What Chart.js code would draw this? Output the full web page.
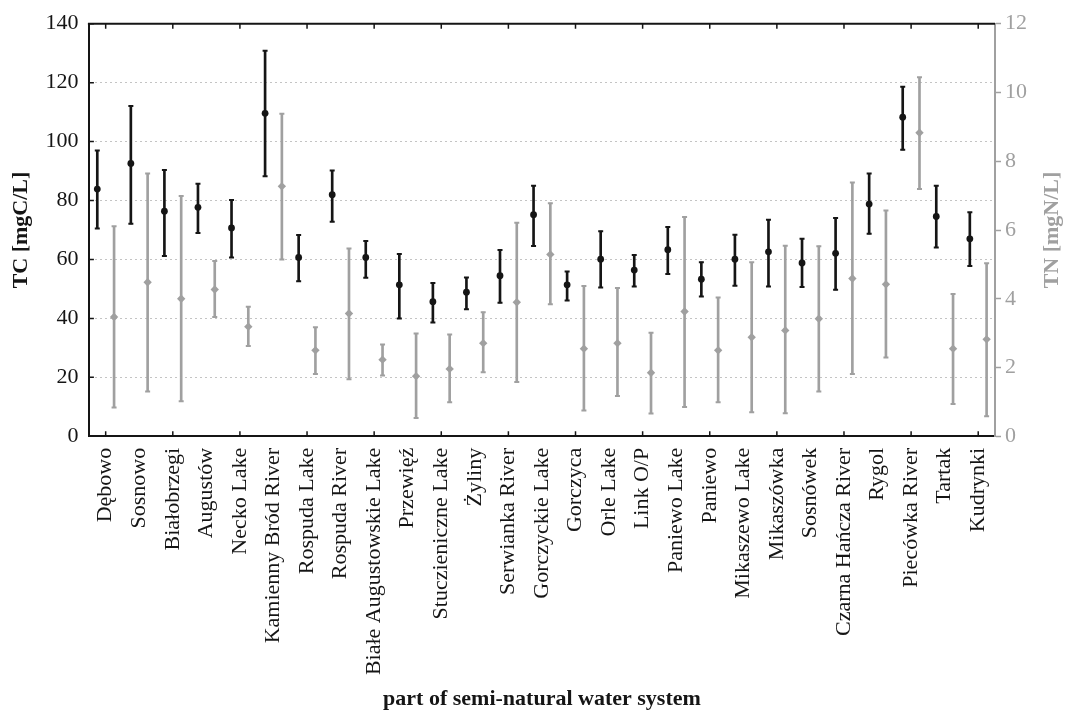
<!DOCTYPE html>
<html>
<head>
<meta charset="utf-8">
<script src="https://cdn.jsdelivr.net/npm/chart.js@4.4.0/dist/chart.umd.min.js"></script>
<style>
  html, body { margin: 0; padding: 0; background: #fff; }
  #wrap { width: 1067px; height: 711px; }
</style>
</head>
<body>
<div id="wrap"><canvas id="chart"></canvas></div>
<script>
// sampling sites along the water system
var sites = ['Dębowo', 'Sosnowo', 'Białobrzegi', 'Augustów', 'Necko Lake', 'Kamienny Bród River',
  'Rospuda Lake', 'Rospuda River', 'Białe Augustowskie Lake', 'Przewięź', 'Stuczieniczne Lake',
  'Żyliny', 'Serwianka River', 'Gorczyckie Lake', 'Gorczyca', 'Orle Lake', 'Link O/P',
  'Paniewo Lake', 'Paniewo', 'Mikaszewo Lake', 'Mikaszówka', 'Sosnówek', 'Czarna Hańcza River',
  'Rygol', 'Piecówka River', 'Tartak', 'Kudrynki'];

// TC [mgC/L] - mean and whisker ends
var tcMean = [83.9, 92.6, 76.4, 77.7, 70.7, 109.6, 60.7, 82.0, 60.7, 51.4, 45.7, 48.9, 54.5, 75.2,
  51.4, 60.1, 56.4, 63.3, 53.3, 60.1, 62.6, 58.8, 62.1, 78.8, 108.3, 74.6, 67.0];
var tcLow = [70.5, 72.1, 61.2, 69.0, 60.7, 88.2, 52.6, 72.8, 53.8, 40.0, 38.6, 43.1, 45.3, 64.6,
  46.1, 50.5, 50.8, 55.1, 47.4, 51.1, 50.8, 50.7, 49.7, 68.7, 97.2, 64.1, 57.8];
var tcHigh = [97.0, 112.1, 90.4, 85.7, 80.2, 130.8, 68.3, 90.2, 66.3, 61.9, 52.0, 53.9, 63.2, 85.0,
  55.9, 69.6, 61.5, 71.0, 59.1, 68.4, 73.5, 67.0, 74.1, 89.2, 118.6, 85.0, 76.0];

// TN [mgN/L] - mean and whisker ends
var tnMean = [3.47, 4.48, 4.00, 4.27, 3.19, 7.27, 2.50, 3.57, 2.23, 1.75, 1.96, 2.71, 3.90, 5.29,
  2.55, 2.71, 1.85, 3.63, 2.50, 2.88, 3.08, 3.42, 4.59, 4.42, 8.83, 2.55, 2.82];
var tnLow = [0.84, 1.30, 1.02, 3.47, 2.63, 5.14, 1.81, 1.66, 1.77, 0.53, 0.99, 1.86, 1.58, 3.84,
  0.75, 1.17, 0.66, 0.85, 0.99, 0.70, 0.67, 1.30, 1.81, 2.29, 7.19, 0.94, 0.58];
var tnHigh = [6.11, 7.64, 6.99, 5.10, 3.77, 9.38, 3.17, 5.46, 2.67, 2.99, 2.96, 3.61, 6.21, 6.78,
  4.37, 4.31, 3.01, 6.38, 4.04, 5.06, 5.54, 5.53, 7.38, 6.57, 10.44, 4.14, 5.03];

var serif = "'Liberation Serif', 'Times New Roman', serif";
var black = '#151515';
var grey = '#a0a0a0';

// TC sits a quarter category left of the tick, TN a quarter right
function points(values, shift) {
  return values.map(function (v, i) { return {x: i + shift, y: v}; });
}
function ranges(lo, hi, shift) {
  return lo.map(function (v, i) { return {x: i + shift, y: [v, hi[i]]}; });
}

var frame = {
  id: 'frame',
  afterDatasetsDraw: function (chart) {
    var ctx = chart.ctx, a = chart.chartArea;
    var xs = chart.scales.x, ys = chart.scales.y;
    ctx.save();
    ctx.strokeStyle = black;
    ctx.lineWidth = 2;
    ctx.beginPath();
    ctx.moveTo(a.left - 1, a.top);
    ctx.lineTo(a.right, a.top);
    ctx.stroke();
    ctx.lineWidth = 1.5;
    ctx.beginPath();
    for (var i = 0; i < sites.length; i += 2) {
      var px = xs.getPixelForValue(i);
      ctx.moveTo(px, a.bottom);
      ctx.lineTo(px, a.bottom - 5);
      ctx.moveTo(px, a.top);
      ctx.lineTo(px, a.top + 5);
    }
    ys.ticks.forEach(function (t) {
      var py = ys.getPixelForValue(t.value);
      ctx.moveTo(a.left, py);
      ctx.lineTo(a.left + 5, py);
    });
    ctx.stroke();
    ctx.restore();
  },
  afterDraw: function (chart) {
    // right axis title reads bottom-to-top like the left one
    var s = chart.scales.y2, t = s.options.title;
    var lh = 26.4;
    var ctx = chart.ctx;
    ctx.save();
    ctx.translate(s.right - 1 - lh / 2, (s.top + s.bottom) / 2);
    ctx.rotate(-Math.PI / 2);
    ctx.font = 'bold 22px ' + serif;
    ctx.fillStyle = grey;
    ctx.textAlign = 'center';
    ctx.textBaseline = 'middle';
    ctx.fillText(t.text, 0, 0);
    ctx.restore();
  }
};

new Chart(document.getElementById('chart'), {
  type: 'scatter',
  data: {
    labels: sites,
    datasets: [
      {
        label: 'TC', data: points(tcMean, -0.25), xAxisID: 'xv', yAxisID: 'y',
        pointStyle: 'circle', pointRadius: 3.4, backgroundColor: black, borderColor: black, borderWidth: 0
      },
      {
        label: 'TN', data: points(tnMean, 0.25), xAxisID: 'xv', yAxisID: 'y2',
        pointStyle: 'rectRot', pointRadius: 4.2, backgroundColor: grey, borderColor: grey, borderWidth: 0
      },
      {
        label: 'TC caps', data: points(tcLow, -0.25).concat(points(tcHigh, -0.25)), xAxisID: 'xv', yAxisID: 'y',
        pointStyle: 'line', pointRadius: 2.5, borderColor: black, borderWidth: 2
      },
      {
        label: 'TN caps', data: points(tnLow, 0.25).concat(points(tnHigh, 0.25)), xAxisID: 'xv', yAxisID: 'y2',
        pointStyle: 'line', pointRadius: 2.5, borderColor: grey, borderWidth: 2
      },
      {
        type: 'bar', label: 'TC range', data: ranges(tcLow, tcHigh, -0.25), xAxisID: 'xv', yAxisID: 'y',
        backgroundColor: black, barThickness: 2, grouped: false
      },
      {
        type: 'bar', label: 'TN range', data: ranges(tnLow, tnHigh, 0.25), xAxisID: 'xv', yAxisID: 'y2',
        backgroundColor: grey, barThickness: 2, grouped: false
      }
    ]
  },
  options: {
    responsive: true,
    maintainAspectRatio: false,
    animation: false,
    layout: {padding: {top: 17, left: 7, right: 0, bottom: -2}},
    plugins: {legend: {display: false}, tooltip: {enabled: false}},
    scales: {
      x: {
        type: 'category',
        position: 'bottom',
        offset: true,
        grid: {display: true, drawOnChartArea: false, drawTicks: false},
        border: {color: black, width: 2},
        ticks: {
          font: {family: serif, size: 22}, color: black,
          minRotation: 90, maxRotation: 90, autoSkip: false, padding: 11.5
        },
        title: {
          display: true, text: 'part of semi-natural water system',
          font: {family: serif, size: 22, weight: 'bold'}, color: black,
          padding: {top: 0, bottom: 0}
        }
      },
      xv: {type: 'linear', min: -0.5, max: 26.5, offset: false, grid: {offset: false}, display: false},
      y: {
        position: 'left',
        min: 0, max: 140,
        ticks: {stepSize: 20, font: {family: serif, size: 22}, color: black, padding: 10.5},
        grid: {color: '#c4c4c4', drawTicks: false},
        border: {color: black, width: 2, dash: [2, 3]},
        title: {
          display: true, text: 'TC [mgC/L]',
          font: {family: serif, size: 22, weight: 'bold'}, color: black,
          padding: {top: 1.5, bottom: 0}
        }
      },
      y2: {
        position: 'right',
        min: 0, max: 12,
        ticks: {stepSize: 2, font: {family: serif, size: 22}, color: grey, padding: 4},
        grid: {drawOnChartArea: false, tickLength: 6, tickColor: grey, tickWidth: 1.5},
        border: {color: grey, width: 2},
        title: {
          display: true, text: 'TN [mgN/L]',
          font: {family: serif, size: 22, weight: 'bold'}, color: 'rgba(0,0,0,0)',
          padding: {top: 1, bottom: 8.6}
        }
      }
    }
  },
  plugins: [frame]
});
</script>
</body>
</html>
